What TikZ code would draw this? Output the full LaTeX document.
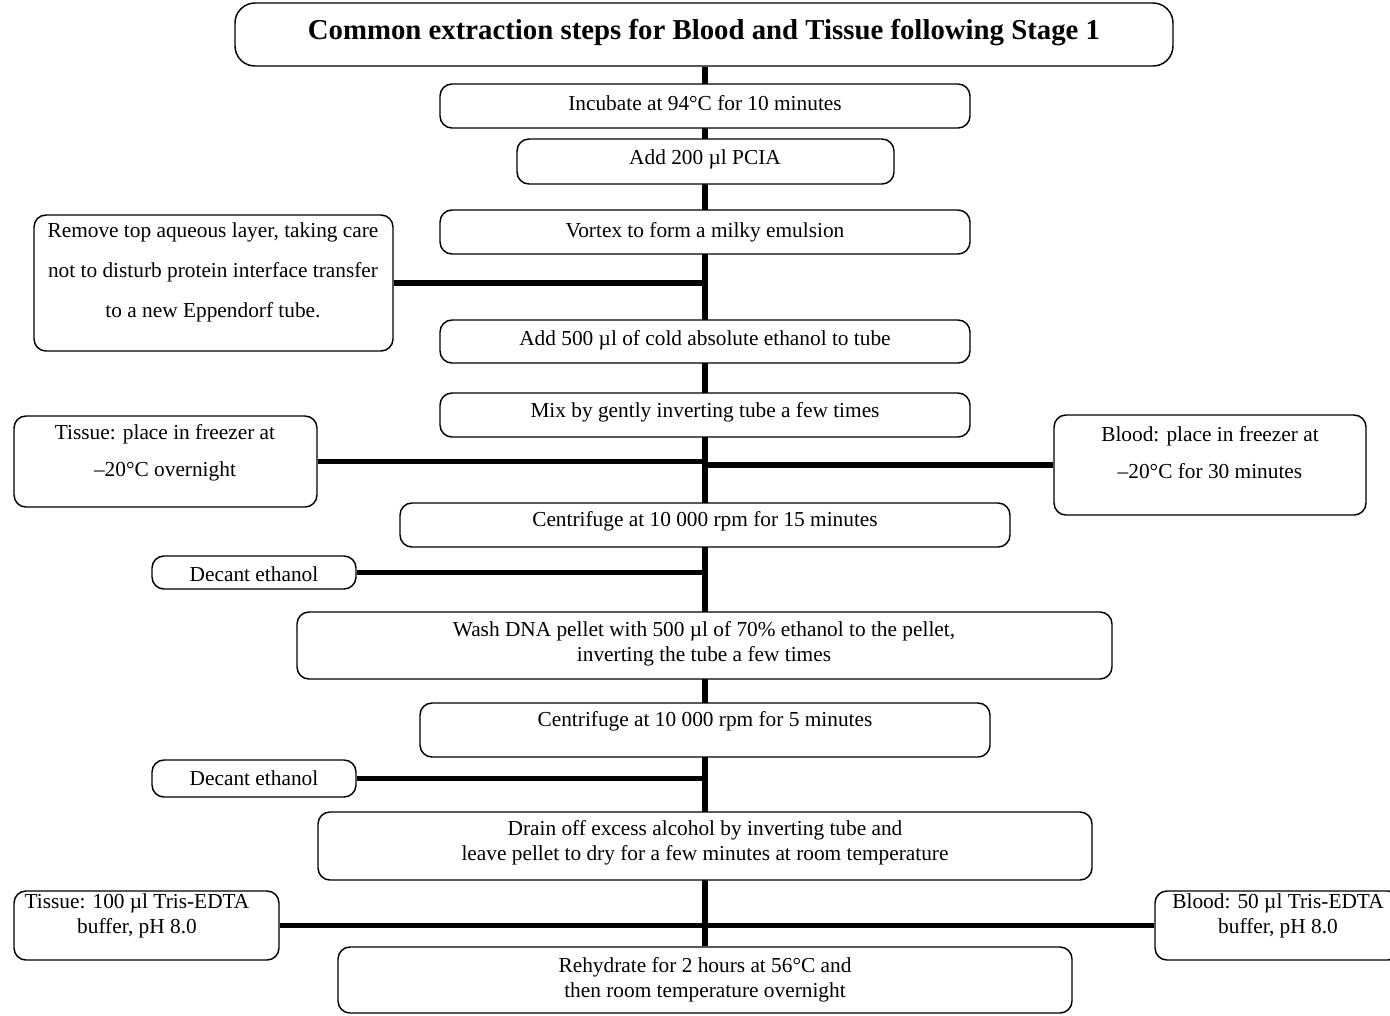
\documentclass[tikz,border=0pt]{standalone}
\usepackage{fontspec}
\setmainfont{Liberation Serif}
\usetikzlibrary{fit,backgrounds}
\begin{document}
\begin{tikzpicture}[x=0.75pt,y=-0.75pt,
  box/.style={draw=black,line width=1.1pt,rounded corners=9pt,fill=white,inner sep=0pt},
  titlebox/.style={box,rounded corners=15pt},
  txt/.style={inner sep=0pt,align=center,font=\fontsize{16}{18.75}\selectfont},
  spine/.style={line width=4pt},
  hconn/.style={line width=3.9pt}]
\useasboundingbox (0,0) rectangle (1390,1015);
% boxes
\node[titlebox,fit={(235,3) (1173,66)}] (title) {};
\node[box,fit={(440,84) (970,128)}] (inc) {};
\node[box,fit={(517,139) (894,184)}] (pcia) {};
\node[box,fit={(440,210) (970,254)}] (vortex) {};
\node[box,fit={(34,215) (393,351)}] (remove) {};
\node[box,fit={(440,320) (970,363)}] (add500) {};
\node[box,fit={(440,393) (970,437)}] (mix) {};
\node[box,fit={(14,416) (317,507)}] (tfreeze) {};
\node[box,fit={(1054,415) (1366,515)}] (bfreeze) {};
\node[box,fit={(400,503) (1010,547)}] (cent15) {};
\node[box,fit={(152,556) (356,589)}] (dec1) {};
\node[box,fit={(297,612) (1112,679)}] (wash) {};
\node[box,fit={(420,703) (990,757)}] (cent5) {};
\node[box,fit={(152,760) (356,797)}] (dec2) {};
\node[box,fit={(318,812) (1092,880)}] (drain) {};
\node[box,fit={(14,891) (279,960)}] (t100) {};
\node[box,fit={(1155,891) (1400,960)}] (b50) {};
\node[box,fit={(338,947) (1072,1013)}] (rehy) {};
% connectors
\begin{pgfonlayer}{background}
\draw[spine] (title.south -| inc.north) -- (rehy.north -| inc.north);
\end{pgfonlayer}
\draw[hconn] (remove.east) -- (remove.east -| inc.north);
\draw[hconn] (tfreeze.east) -- (tfreeze.east -| inc.north);
\draw[hconn] (bfreeze.west) -- (bfreeze.west -| inc.north);
\draw[hconn] (dec1.east) -- (dec1.east -| inc.north);
\draw[hconn] (dec2.east) -- (dec2.east -| inc.north);
\draw[hconn] (t100.east) -- (t100.east -| inc.north);
\draw[hconn] (b50.west) -- (b50.west -| inc.north);
% texts
\node[txt,font=\fontsize{21.6}{24}\selectfont\bfseries] (titletxt) at (704,33) {Common extraction steps for Blood and Tissue following Stage 1};
\node[txt] (inctxt) at (705,103) {Incubate at 94°C for 10 minutes};
\node[txt] (pciatxt) at (705,159) {Add 200 µl PCIA};
\node[txt] (vortextxt) at (705,232) {Vortex to form a milky emulsion};
\node[txt,font=\fontsize{16}{30}\selectfont] (removetxt) at (213,272) {Remove top aqueous layer, taking care\\not to disturb protein interface transfer\\to a new Eppendorf tube.};
\node[txt] (add500txt) at (705,340) {Add 500 µl of cold absolute ethanol to tube};
\node[txt] (mixtxt) at (705,412) {Mix by gently inverting tube a few times};
\node[txt,font=\fontsize{16}{27.75}\selectfont] (tfreezetxt) at (165,453) {Tissue: place in freezer at\\–20°C overnight};
\node[txt,font=\fontsize{16}{27.75}\selectfont] (bfreezetxt) at (1210,453) {Blood: place in freezer at\\–20°C for 30 minutes};
\node[txt] (cent15txt) at (705,521) {Centrifuge at 10 000 rpm for 15 minutes};
\node[txt] (dec1txt) at (254,574) {Decant ethanol};
\node[txt] (washtxt) at (704,644) {Wash DNA pellet with 500 µl of 70\% ethanol to the pellet,\\inverting the tube a few times};
\node[txt] (cent5txt) at (705,721) {Centrifuge at 10 000 rpm for 5 minutes};
\node[txt] (dec2txt) at (254,778) {Decant ethanol};
\node[txt] (draintxt) at (705,843) {Drain off excess alcohol by inverting tube and\\leave pellet to dry for a few minutes at room temperature};
\node[txt] (t100txt) at (137,916) {Tissue: 100 µl Tris-EDTA\\buffer, pH 8.0};
\node[txt] (b50txt) at (1278,916) {Blood: 50 µl Tris-EDTA\\buffer, pH 8.0};
\node[txt] (rehytxt) at (705,980) {Rehydrate for 2 hours at 56°C and\\then room temperature overnight};
\end{tikzpicture}
\end{document}
